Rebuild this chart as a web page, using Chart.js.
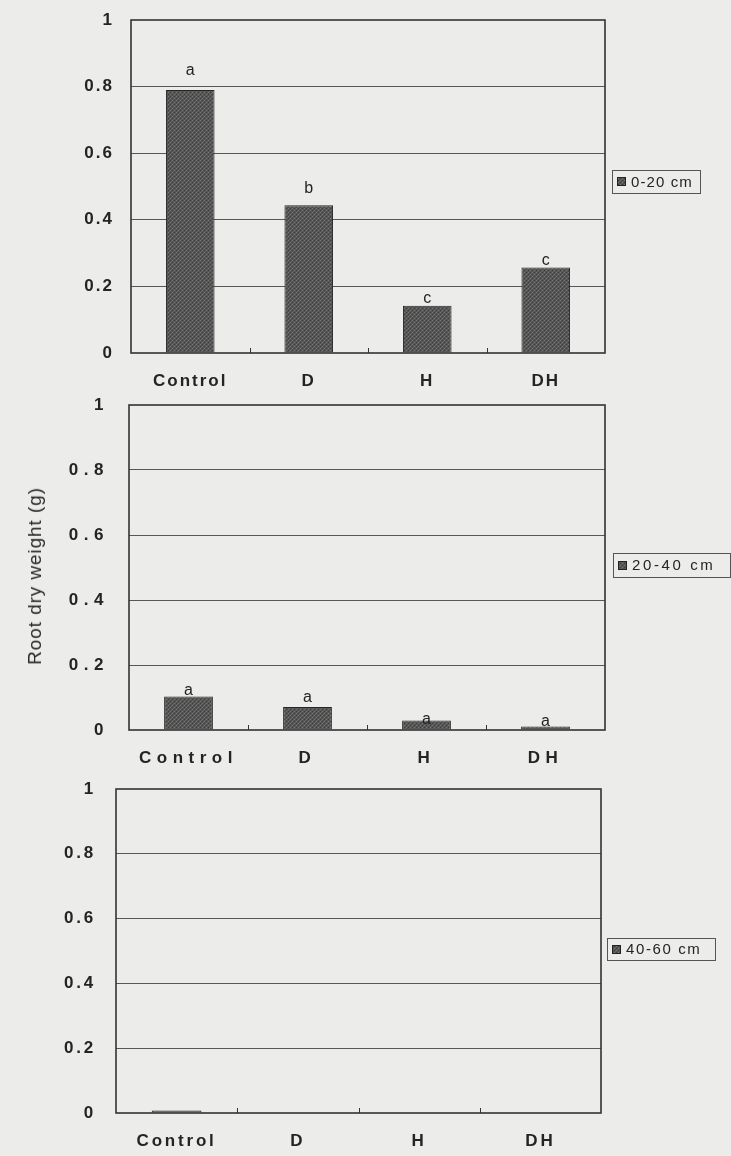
<!DOCTYPE html>
<html>
<head>
<meta charset="utf-8">
<title>Root dry weight by soil depth</title>
<script src="https://cdn.jsdelivr.net/npm/chart.js@4.4.1/dist/chart.umd.min.js"></script>
<style>
  html, body { margin: 0; padding: 0; background: #ececeb; }
  #wrap { position: relative; width: 731px; height: 1156px; overflow: hidden; background: #ececeb; }
  #wrap canvas { position: absolute; left: 0; }
  #ytitle {
    position: absolute; left: 35px; top: 576px;
    transform: translate(-50%, -50%) rotate(-90deg);
    font: 19px "Liberation Sans", Arial, sans-serif; color: #2a2a2a;
    white-space: nowrap; letter-spacing: 0.9px;
  }
</style>
</head>
<body>
<div id="wrap">
  <canvas id="c1"></canvas>
  <canvas id="c2"></canvas>
  <canvas id="c3"></canvas>
  <div id="ytitle">Root dry weight (g)</div>
</div>
<script>
// Treatments and y axis values
const treatments = ['Control', 'D', 'H', 'DH'];
const yTickValues = [0, 0.2, 0.4, 0.6, 0.8, 1];

// Root dry weight (g) per soil layer
const depth0to20 = [0.79, 0.444, 0.142, 0.257];
const depth20to40 = [0.103, 0.071, 0.029, 0.011];
const depth40to60 = [0.008, 0, 0, 0];

// Significance letters per bar
const letters0to20 = ['a', 'b', 'c', 'c'];
const letters20to40 = ['a', 'a', 'a', 'a'];
const letters40to60 = ['', '', '', ''];

const layerNames = ['0-20 cm', '20-40 cm', '40-60 cm'];

const FONT = '"Liberation Sans", Arial, sans-serif';
const INK = '#242424';

// Fine stippled grey fill used for the bars and legend swatches
function stipple(ctx) {
  const p = document.createElement('canvas');
  p.width = 4; p.height = 4;
  const g = p.getContext('2d');
  g.fillStyle = '#545454'; g.fillRect(0, 0, 4, 4);
  g.fillStyle = '#767676'; g.fillRect(0, 0, 1, 1); g.fillRect(2, 2, 1, 1);
  g.fillStyle = '#3e3e3e'; g.fillRect(2, 0, 1, 1); g.fillRect(0, 2, 1, 1);
  g.fillStyle = '#626262'; g.fillRect(1, 3, 1, 1); g.fillRect(3, 1, 1, 1);
  return ctx.createPattern(p, 'repeat');
}

// Plot frame, small boundary ticks on the category axis, bar letters and the key box
const panelDecor = {
  id: 'panelDecor',
  beforeDraw(chart, args, opts) {
    chart.ctx.letterSpacing = (opts.tickSpacing || 0) + 'px';
  },
  afterDatasetsDraw(chart, args, opts) {
    const { ctx, chartArea: a } = chart;
    const xs = chart.scales.x;
    ctx.save();
    ctx.letterSpacing = '0px';
    // frame
    ctx.strokeStyle = '#333';
    ctx.lineWidth = 1.6;
    ctx.strokeRect(a.left, a.top, a.right - a.left, a.bottom - a.top);
    // boundary ticks
    ctx.lineWidth = 1;
    for (let i = 1; i < treatments.length; i++) {
      const x = Math.round((xs.getPixelForValue(i - 1) + xs.getPixelForValue(i)) / 2) + 0.5;
      ctx.beginPath();
      ctx.moveTo(x, a.bottom);
      ctx.lineTo(x, a.bottom - 5);
      ctx.stroke();
    }
    // letters above bars
    const meta = chart.getDatasetMeta(0);
    ctx.fillStyle = INK;
    ctx.font = '16px ' + FONT;
    ctx.textAlign = 'center';
    ctx.textBaseline = 'middle';
    meta.data.forEach((bar, i) => {
      const t = opts.letters[i];
      if (t) ctx.fillText(t, bar.x, bar.y - opts.lift[i]);
    });
    // key box
    const k = opts.key;
    ctx.strokeStyle = '#555';
    ctx.lineWidth = 1;
    ctx.strokeRect(k.x + 0.5, k.y + 0.5, k.w, k.h);
    const sy = Math.round(k.y + (k.h - 9) / 2);
    ctx.fillStyle = stipple(ctx);
    ctx.fillRect(k.x + 5, sy, 9, 9);
    ctx.strokeStyle = '#222';
    ctx.strokeRect(k.x + 5.5, sy + 0.5, 8, 8);
    ctx.fillStyle = INK;
    ctx.font = '15px ' + FONT;
    ctx.letterSpacing = k.spacing + 'px';
    ctx.textAlign = 'left';
    ctx.textBaseline = 'middle';
    ctx.fillText(chart.data.datasets[0].label, k.x + 19, k.y + k.h / 2 + 1);
    ctx.restore();
  }
};

function makePanel(id, canvasTop, canvasH, area, values, name, letters, lift, tickSpacing, labelPad, yPad, key) {
  const cv = document.getElementById(id);
  cv.style.top = canvasTop + 'px';
  cv.width = 731; cv.height = canvasH;
  cv.style.width = '731px'; cv.style.height = canvasH + 'px';
  const ctx = cv.getContext('2d');
  return new Chart(ctx, {
    type: 'bar',
    data: {
      labels: treatments,
      datasets: [{
        label: name,
        data: values,
        backgroundColor: stipple(ctx),
        borderColor: '#262626',
        borderWidth: 1,
        categoryPercentage: 1,
        barPercentage: 0.41
      }]
    },
    options: {
      responsive: false,
      animation: false,
      devicePixelRatio: 1,
      layout: { padding: { top: area.top - canvasTop, right: 731 - area.right, left: 0, bottom: 0 } },
      plugins: {
        legend: { display: false },
        tooltip: { enabled: false },
        panelDecor: { letters, lift, tickSpacing, key }
      },
      scales: {
        x: {
          grid: { display: false, drawTicks: false },
          border: { display: false },
          ticks: { color: INK, font: { family: FONT, size: 17, weight: 'bold' }, padding: labelPad, maxRotation: 0 },
          afterFit(s) { s.height = canvasTop + canvasH - area.bottom; }
        },
        y: {
          min: 0, max: 1,
          afterBuildTicks(s) { s.ticks = yTickValues.map(v => ({ value: v })); },
          grid: {
            drawTicks: false,
            color: c => (c.tick.value > 0 && c.tick.value < 1) ? '#575757' : 'rgba(0,0,0,0)',
            lineWidth: 1
          },
          border: { display: false },
          ticks: {
            color: INK, font: { family: FONT, size: 17, weight: 'bold' }, padding: yPad,
            callback: v => String(+v.toFixed(1))
          },
          afterFit(s) { s.width = area.left; s.paddingTop = 0; s.paddingBottom = 0; }
        }
      }
    },
    plugins: [panelDecor]
  });
}

makePanel('c1', 0, 398, { left: 131, right: 605, top: 20, bottom: 353 },
  depth0to20, layerNames[0], letters0to20, [19, 17, 7, 7], 2, 18, 17,
  { x: 612, y: 170, w: 88, h: 23, spacing: 1.1 });

makePanel('c2', 385, 399, { left: 129, right: 605, top: 405, bottom: 730 },
  depth20to40, layerNames[1], letters20to40, [6, 9, 1, 5], 5.5, 18, 20,
  { x: 613, y: 553 - 385, w: 117, h: 24, spacing: 2.6 });

makePanel('c3', 770, 386, { left: 116, right: 601, top: 789, bottom: 1113 },
  depth40to60, layerNames[2], letters40to60, [0, 0, 0, 0], 2.8, 18, 20,
  { x: 607, y: 938 - 770, w: 108, h: 22, spacing: 1.6 });
</script>
</body>
</html>
